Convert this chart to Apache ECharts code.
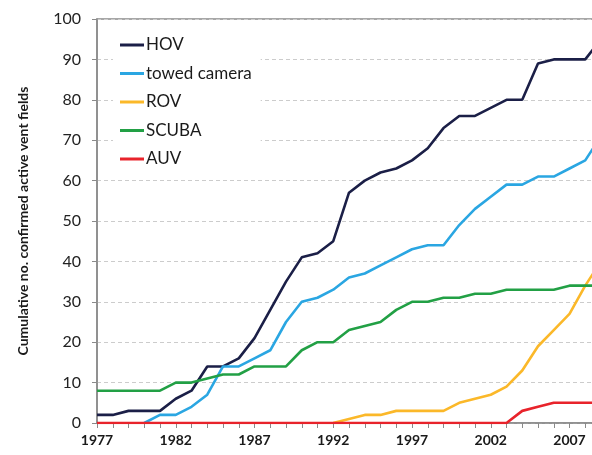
<!DOCTYPE html>
<html>
<head>
<meta charset="utf-8">
<script src="https://cdn.jsdelivr.net/npm/echarts@6/dist/echarts.min.js"></script>
<style>html,body{margin:0;padding:0;background:#fff;overflow:hidden;width:592px;height:455px}#c{width:630px;height:455px}</style>
</head>
<body>
<div id="c"></div>
<script>
const years = [1977,1978,1979,1980,1981,1982,1983,1984,1985,1986,1987,1988,1989,1990,1991,1992,1993,1994,1995,1996,1997,1998,1999,2000,2001,2002,2003,2004,2005,2006,2007,2008,2009];
const hov    = [2,2,3,3,3,6,8,14,14,16,21,28,35,41,42,45,57,60,62,63,65,68,73,76,76,78,80,80,89,90,90,90,95];
const towed  = [null,null,null,0,2,2,4,7,14,14,16,18,25,30,31,33,36,37,39,41,43,44,44,49,53,56,59,59,61,61,63,65,71];
const rov    = [null,null,null,null,null,null,null,null,null,null,null,null,null,null,null,0,1,2,2,3,3,3,3,5,6,7,9,13,19,23,27,34,40];
const scuba  = [8,8,8,8,8,10,10,11,12,12,14,14,14,18,20,20,23,24,25,28,30,30,31,31,32,32,33,33,33,33,34,34,34];
const auv    = [0,0,0,0,0,0,0,0,0,0,0,0,0,0,0,0,0,0,0,0,0,0,0,0,0,0,0,3,4,5,5,5,5];
const seriesNames = ['HOV','towed camera','ROV','SCUBA','AUV'];
const seriesData = [hov, towed, rov, scuba, auv];
const colors = ['#1b1f47','#2aa6e2','#fbb829','#22a045','#e8232b'];
const yTicks = [0,10,20,30,40,50,60,70,80,90,100];

const pair = arr => years.map((y,i) => [y, arr[i]]);
const FONT = 'Lato';
const chart = echarts.init(document.getElementById('c'));
chart.setOption({
  animation: false,
  backgroundColor: '#fff',
  textStyle: { fontFamily: FONT },
  grid: { left: 97, top: 19, right: 13.25, height: 404, show: true, borderColor: '#8a8a8a', borderWidth: 1.5, backgroundColor: 'transparent' },
  legend: {
    orient: 'vertical', left: 113, top: 28,
    padding: [8, 9, 8, 7],
    backgroundColor: '#fff',
    icon: 'rect', itemWidth: 24, itemHeight: 3, itemGap: 10.5,
    textStyle: { fontFamily: FONT, fontSize: 17, color: '#1a1a1a', lineHeight: 18, padding: [0,0,0,-3] },
    data: seriesNames
  },
  xAxis: {
    type: 'value', min: 1977, max: 2010, interval: 1,
    axisLine: { show: true, lineStyle: { color: '#8a8a8a', width: 1.5 } },
    axisTick: { show: true, length: 5, lineStyle: { color: '#8a8a8a' } },
    splitLine: { show: false },
    axisLabel: {
      margin: 10, fontFamily: FONT, fontSize: 14, fontWeight: 'bold', color: '#1a1a1a',
      showMaxLabel: false,
      formatter: v => ((v - 1977) % 5 === 0 ? String(v) : '')
    }
  },
  yAxis: {
    type: 'value', min: 0, max: 100, interval: 10,
    name: 'Cumulative no. confirmed active vent fields',
    nameLocation: 'middle', nameGap: 67,
    nameTextStyle: { fontFamily: FONT, fontSize: 14, fontWeight: 'bold', color: '#1a1a1a' },
    axisLine: { show: true, lineStyle: { color: '#8a8a8a', width: 1.5 } },
    axisTick: { show: true, length: 5, lineStyle: { color: '#8a8a8a' } },
    splitLine: { show: true, lineStyle: { color: '#cccccc', type: [4, 3], width: 1 } },
    axisLabel: { margin: 16, fontFamily: FONT, fontSize: 16, color: '#222',
      formatter: v => (yTicks.includes(v) ? String(v) : '') }
  },
  series: seriesNames.map((n, i) => ({
    name: n, type: 'line', data: pair(seriesData[i]),
    symbol: 'none', connectNulls: false,
    color: colors[i],
    lineStyle: { color: colors[i], width: 2.6 },
    itemStyle: { color: colors[i] }
  }))
});
</script>
</body>
</html>
